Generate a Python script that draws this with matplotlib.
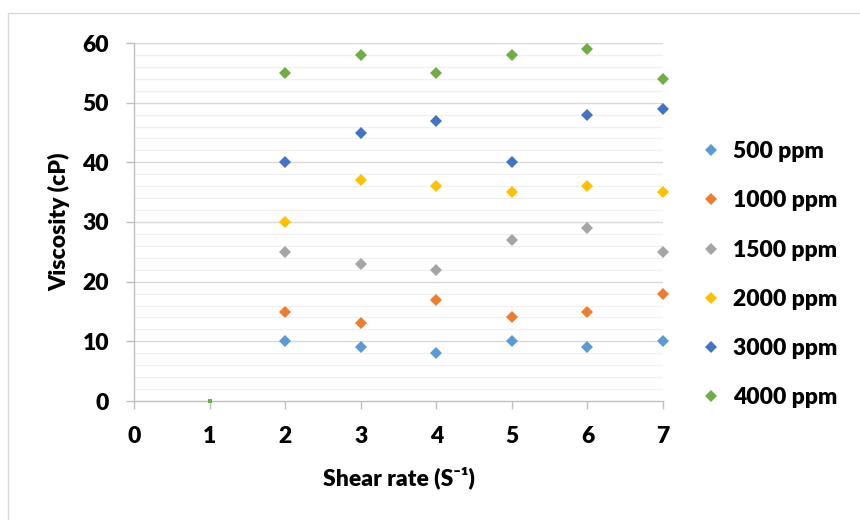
import matplotlib
matplotlib.use('Agg')
import matplotlib.pyplot as plt
from matplotlib.lines import Line2D
from matplotlib.patches import Rectangle

# Data
shear_rate = [2, 3, 4, 5, 6, 7]
series_names = ['500 ppm', '1000 ppm', '1500 ppm', '2000 ppm', '3000 ppm', '4000 ppm']
visc_500 = [10, 9, 8, 10, 9, 10]
visc_1000 = [15, 13, 17, 14, 15, 18]
visc_1500 = [25, 23, 22, 27, 29, 25]
visc_2000 = [30, 37, 36, 35, 36, 35]
visc_3000 = [40, 45, 47, 40, 48, 49]
visc_4000 = [55, 58, 55, 58, 59, 54]
# stray point of the 4000 ppm series sitting on the axis
stray_x = [1]
stray_y = [0]

colors = ['#5B9BD5', '#ED7D31', '#A5A5A5', '#FFC000', '#4472C4', '#70AD47']
all_series = [visc_500, visc_1000, visc_1500, visc_2000, visc_3000, visc_4000]

FAM = ['Lato', 'DejaVu Sans']
W = 'heavy'
FS = 16.5
plt.rcParams['font.family'] = FAM

fig = plt.figure(figsize=(8.6, 5.2), dpi=100)
ax = fig.add_axes([134 / 860, 1 - 401 / 520, (663 - 134) / 860, (401 - 43) / 520])

# outer chart border (only left/top visible in the reference)
fig.patches.append(Rectangle((8 / 860, -0.1), 1.2, 1 - 13 / 520 + 0.1, transform=fig.transFigure,
                             fill=False, edgecolor='#D9D9D9', linewidth=1.0, zorder=0))

# gridlines: major every 10, minor every 2
for yv in range(2, 61, 2):
    if yv % 10 == 0:
        ax.axhline(yv, color='#D9D9D9', linewidth=1.0, zorder=0)
    else:
        ax.axhline(yv, color='#F0F0F0', linewidth=1.0, zorder=0)

for name, vals, c in zip(series_names, all_series, colors):
    ax.plot(shear_rate, vals, linestyle='none', marker='D', markersize=6.3, color=c,
            markeredgewidth=0, label=name, zorder=3, clip_on=False)
ax.plot(stray_x, stray_y, linestyle='none', marker='s', markersize=2.5, color=colors[5],
        markeredgewidth=0, zorder=4, clip_on=False)

ax.set_xlim(0, 7)
ax.set_ylim(0, 60)
ax.set_xticks(range(0, 8))
ax.set_yticks(range(0, 61, 10))
ax.set_xticklabels([str(v) for v in range(0, 8)], fontsize=FS, fontweight=W, family=FAM)
ax.set_yticklabels([str(v) for v in range(0, 61, 10)], fontsize=FS, fontweight=W, family=FAM)

for side in ['top', 'right']:
    ax.spines[side].set_visible(False)
for side in ['left', 'bottom']:
    ax.spines[side].set_color('#BFBFBF')
    ax.spines[side].set_linewidth(1.0)

ax.tick_params(axis='both', colors='#BFBFBF', labelcolor='black',
               length=6, width=1.0, direction='out')
ax.tick_params(axis='x', pad=12)
ax.tick_params(axis='y', pad=12)

ax.set_xlabel('Shear rate (S\u207b\u00b9)', fontsize=FS, fontweight=W, family=FAM, labelpad=14)
ax.set_ylabel('Viscosity (cP)', fontsize=FS, fontweight=W, family=FAM, labelpad=9)

handles = [Line2D([], [], linestyle='none', marker='D', markersize=6.3, color=c, markeredgewidth=0)
           for c in colors]
leg = fig.legend(handles, series_names, loc='upper left', bbox_to_anchor=(693 / 860, 1 - 132 / 520),
                 frameon=False, prop={'family': FAM, 'weight': W, 'size': FS},
                 handlelength=0.8, handletextpad=0.55, labelspacing=1.23, borderaxespad=0)

plt.savefig('out.png', dpi=100)
plt.close()
